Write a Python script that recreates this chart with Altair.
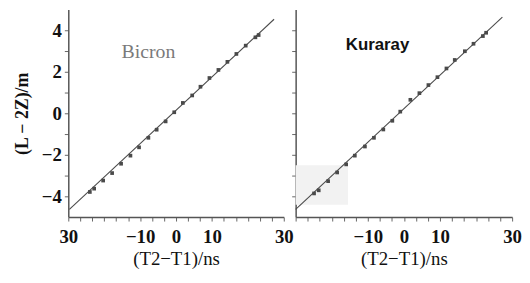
import altair as alt
import pandas as pd

# ---- data ----
bicron_t = [-24.0, -22.8, -20.3, -17.8, -15.3, -12.7, -10.3, -7.7, -5.4, -2.9, -0.5,
            1.9, 4.5, 6.8, 9.3, 11.8, 14.3, 16.8, 19.4, 22.1, 23.0]
bicron_d = [-3.79, -3.63, -3.24, -2.88, -2.43, -2.04, -1.64, -1.18, -0.79, -0.39, 0.05,
            0.50, 0.86, 1.28, 1.70, 2.09, 2.48, 2.86, 3.26, 3.66, 3.77]
bicron_fit_t = [-29.7, 27.3]
bicron_fit_d = [-4.63, 4.53]

kuraray_t = [-24.9, -23.6, -21.0, -18.5, -16.0, -13.6, -10.8, -8.3, -5.7, -3.2, -1.0,
             1.8, 4.3, 6.8, 9.3, 11.8, 14.1, 16.9, 19.3, 21.9, 22.8]
kuraray_d = [-3.86, -3.71, -3.27, -2.85, -2.46, -2.04, -1.60, -1.18, -0.78, -0.36, 0.08,
             0.65, 0.97, 1.36, 1.74, 2.16, 2.57, 2.99, 3.35, 3.72, 3.88]
kuraray_fit_t = [-30.0, 27.3]
kuraray_fit_d = [-4.63, 4.63]

x_ticks = [round(-30 + i * 10 / 3, 4) for i in range(19)]
y_ticks = [-4, -3, -2, -1, 0, 1, 2, 3, 4]

SERIF = "Liberation Serif"
INK = "#4a4a4a"
MINUS = "\u2212"


def x_axis(show_left_label):
    left = "'30'" if show_left_label else "''"
    expr = ("abs(datum.value + 30) < 0.01 ? " + left + " : "
            "abs(datum.value - 30) < 0.01 ? '30' : "
            "abs(datum.value + 10) < 0.01 ? '" + MINUS + "10' : "
            "abs(datum.value) < 0.01 ? '0' : "
            "abs(datum.value - 10) < 0.01 ? '10' : ''")
    return alt.Axis(values=x_ticks, labelExpr=expr, grid=False,
                    tickSize=4, tickColor="#666", domainColor="#555", domainWidth=1.5,
                    labelFont=SERIF, labelFontWeight="bold", labelFontSize=19,
                    labelColor="#111", labelPadding=7, labelFlush=False,
                    labelOverlap=False, title="(T2" + MINUS + "T1)/ns", titleFont=SERIF,
                    titleFontSize=19, titleFontWeight="normal", titleColor="#111",
                    titlePadding=3)


def y_axis(show):
    if show:
        expr = ("abs(datum.value % 2) < 0.01 ? "
                "(datum.value < 0 ? '" + MINUS + "' + abs(datum.value) : '' + datum.value) : ''")
        return alt.Axis(values=y_ticks, grid=False, labelExpr=expr,
                        tickSize=4, tickColor="#666", domainColor="#555", domainWidth=1.5,
                        labelFont=SERIF, labelFontWeight="bold", labelFontSize=19,
                        labelColor="#111", labelPadding=3, labelOverlap=False,
                        title="(L " + MINUS + " 2Z)/m", titleFont=SERIF, titleFontSize=18,
                        titleFontWeight="bold", titleColor="#111", titlePadding=10)
    return alt.Axis(values=y_ticks, grid=False, labels=False, title=None,
                    tickSize=4, tickColor="#666", domainColor="#555", domainWidth=1.5)


def panel(pt_t, pt_d, fit_t, fit_d, label, label_pos, label_style, first, width):
    xs = alt.Scale(domain=[-30, 30], nice=False, zero=False)
    ys = alt.Scale(domain=[-5, 5], nice=False, zero=False)
    xa = x_axis(first)
    ya = y_axis(first)

    def enc(ch):
        return ch.encode(x=alt.X("t:Q", scale=xs, axis=xa),
                         y=alt.Y("d:Q", scale=ys, axis=ya))

    pts = pd.DataFrame({"t": pt_t, "d": pt_d})
    fit = pd.DataFrame({"t": fit_t, "d": fit_d})
    lab = pd.DataFrame({"t": [label_pos[0]], "d": [label_pos[1]], "s": [label]})

    layers = []
    if not first:
        shade = pd.DataFrame({"t": [-30.0], "t2": [-15.5], "d": [-2.5], "d2": [-4.4]})
        layers.append(enc(alt.Chart(shade).mark_rect(color="#f2f2f2")).encode(
            x2="t2", y2="d2"))
    layers.append(enc(alt.Chart(fit).mark_line(color=INK, strokeWidth=1.1)))
    layers.append(enc(alt.Chart(pts).mark_point(shape="square", filled=True, size=14,
                                                color=INK, opacity=1)))
    layers.append(enc(alt.Chart(lab).mark_text(**label_style)).encode(text="s:N"))
    return alt.layer(*layers).properties(width=width, height=210)


left = panel(bicron_t, bicron_d, bicron_fit_t, bicron_fit_d, "Bicron", (-7.7, 2.95),
             dict(font=SERIF, fontSize=20, color="#7a7a7a"), True, 218)
right = panel(kuraray_t, kuraray_d, kuraray_fit_t, kuraray_fit_d, "Kuraray", (-7.3, 3.3),
              dict(font="Liberation Sans", fontSize=17, fontWeight="bold", color="#111"),
              False, 219)

chart = alt.hconcat(left, right, spacing=12, bounds="flush").properties(
    padding={"left": 5, "top": 0, "right": 0, "bottom": 0}
).configure_view(stroke=None)

chart.save("out.html", embed_options={"renderer": "svg", "actions": False})
